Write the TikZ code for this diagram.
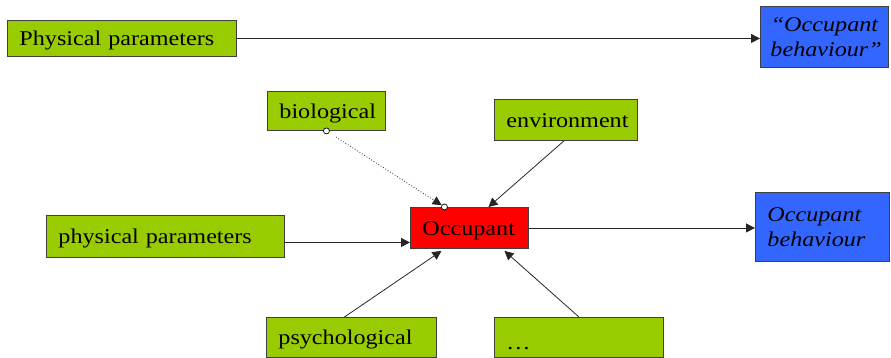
\documentclass[tikz,border=0pt]{standalone}
\usepackage{fontspec}
\setmainfont{Liberation Serif}[FakeStretch=1.15]
\usetikzlibrary{arrows.meta}
\definecolor{boxgreen}{HTML}{99CC00}
\definecolor{boxblue}{HTML}{3366FF}
\definecolor{boxred}{HTML}{FF0000}
\definecolor{edge}{HTML}{404040}
\tikzset{
  every node/.style={font=\fontsize{21}{25}\selectfont},
  card/.style={draw=edge, line width=0.9pt, anchor=north west,
    inner xsep=12pt, inner ysep=0pt, align=left,
    execute at begin node=\hyphenpenalty10000},
  oneline/.style={card, text height=19pt, text depth=4pt},
  gbox/.style={oneline, fill=boxgreen},
  rbox/.style={oneline, fill=boxred},
  bbox/.style={card, fill=boxblue, font=\fontsize{21}{25}\selectfont\itshape},
  arr/.style={draw=black!85, line width=0.8pt, -{Triangle[length=9pt,width=9pt]}},
  dotend/.style={circle, draw=black, fill=white, line width=0.7pt,
    inner sep=0pt, minimum size=6pt},
}
\begin{document}
\begin{tikzpicture}[x=1pt, y=-1pt]
\useasboundingbox (0,0) rectangle (891,358);

% upper row
\node[gbox, text width=205pt, minimum height=36pt] (pp1) at (7,20) {Physical parameters};
\node[bbox, text width=108pt, inner xsep=10pt, align=center, minimum height=61pt] (b1) at (760,6) {“Occupant\\behaviour”};
\draw[arr] (pp1.east) -- (pp1.east -| b1.west);

% lower model
\node[gbox, text width=94pt, minimum height=39pt] (bio) at (267,91) {biological};
\node[gbox, text width=119pt, minimum height=41pt] (env) at (494,99) {environment};
\node[rbox, text width=94pt, minimum height=41pt] (occ) at (410,207) {Occupant};
\node[gbox, text width=214pt, minimum height=42pt] (pp2) at (46,215) {physical parameters};
\node[bbox, text width=110pt, minimum height=69pt] (b2) at (755,192) {Occupant\\behaviour};
\node[gbox, text width=146pt, minimum height=40pt] (psy) at (266,317) {psychological};
\node[gbox, text width=145pt, minimum height=40pt] (etc) at (494,317) {\raisebox{-5pt}{…}};

% dotted link with open end markers
\node[dotend] (bdot) at (bio.south) {};
\node[dotend] (odot) at ([xshift=-25pt]occ.north) {};
\draw[draw=black!85, line width=0.8pt, dotted, shorten <=8pt,
  -{Triangle[length=9pt,width=9pt]}] (bdot) -- (odot);

% solid connectors
\draw[arr] ([xshift=-2pt]env.south) -- ([xshift=19pt]occ.north);
\draw[arr] ([yshift=-6pt]pp2.east) -- ([yshift=-6pt]pp2.east -| occ.west);
\draw[arr] (occ.east) -- (occ.east -| b2.west);
\draw[arr] ([xshift=-7pt]psy.north) -- ([xshift=-28pt,yshift=-2pt]occ.south);
\draw[arr] (etc.north) -- ([xshift=35pt,yshift=-2pt]occ.south);
\end{tikzpicture}
\end{document}
